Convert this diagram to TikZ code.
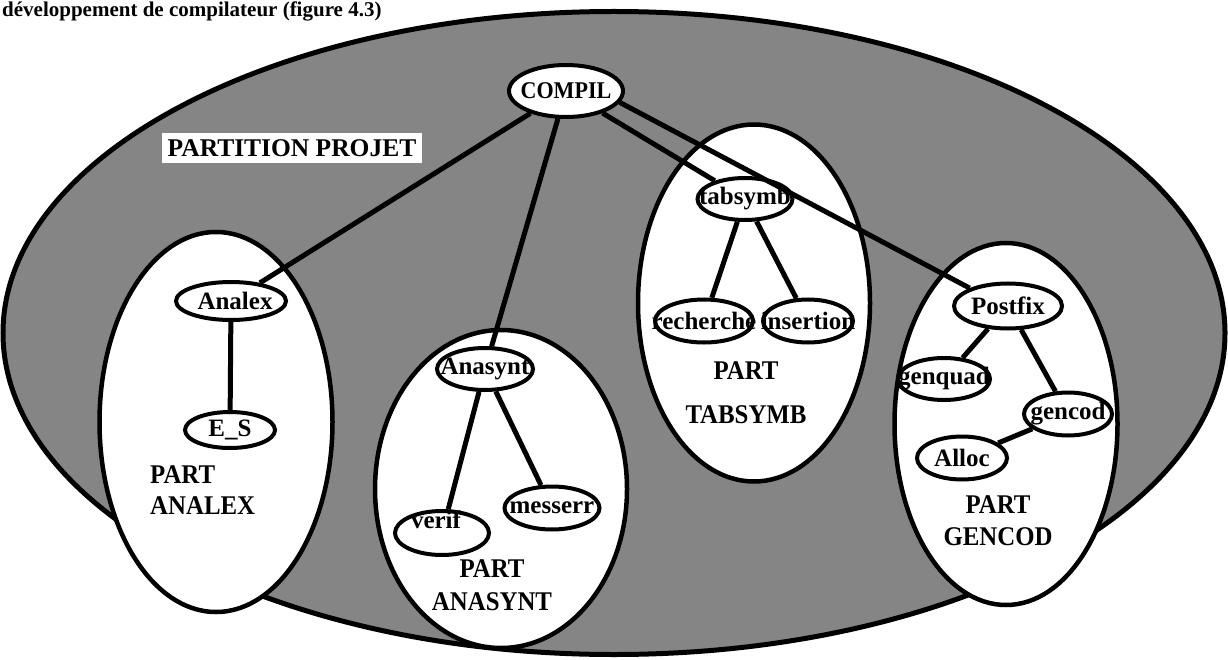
\documentclass[tikz,border=0pt]{standalone}
\usepackage{fontspec}
\setmainfont{Liberation Serif}
\newfontfamily\capsfont{Liberation Serif}[FakeStretch=0.92]
\usetikzlibrary{shapes.geometric}
\tikzset{
  region/.style={ellipse, draw, line width=5pt, inner sep=0pt},
  part/.style={ellipse, draw, line width=4.5pt, fill=white, inner sep=0pt},
  mod/.style={ellipse, draw, line width=4pt, fill=white, inner sep=0pt,
              font=\fontsize{25}{25}\selectfont\bfseries},
  link/.style={line width=5pt},
  partlabel/.style={inner sep=0pt, align=center},
}
% text that may run past the outline of its ellipse
\newcommand{\wide}[1]{\makebox[0pt]{#1}}

\begin{document}
\begin{tikzpicture}[x=1pt,y=-1pt]
\useasboundingbox (0,0) rectangle (1228,660);
\clip (0,0) rectangle (1228,660);

% caption line at the top
\node[anchor=base west, inner sep=0pt, font=\fontsize{21}{21}\selectfont\bfseries] (caption)
  at (2,17) {développement de compilateur (figure 4.3)};

% the whole project
\node[region, fill=black!48, minimum width=1222pt, minimum height=643pt] (projet) at (614,333) {};

% the four partitions
\node[part, minimum width=233pt, minimum height=380pt] (pAnalex)  at (216,422) {};
\node[part, minimum width=252pt, minimum height=318pt] (pAnasynt) at (501,489) {};
\node[part, minimum width=232pt, minimum height=357pt] (pTabsymb) at (754,303) {};
\node[part, minimum width=223pt, minimum height=362pt] (pGencod)  at (1006,424) {};

\node[fill=white, inner sep=0pt, minimum width=260pt, minimum height=30pt,
      font=\fontsize{25.5}{25.5}\selectfont\bfseries] (projlabel) at (292,148) {PARTITION PROJET};

% modules
\node[mod, minimum width=114pt, minimum height=52pt, font=\capsfont\fontsize{24}{24}\selectfont\bfseries]
      (compil) at (566,91) {\wide{COMPIL}};
\node[mod, minimum width=110pt, minimum height=38pt] (analex)   at (231,301) {\wide{\hspace*{8pt}Analex}};
\node[mod, minimum width=90pt,  minimum height=36pt] (es)       at (230,430) {\wide{E\_S}};
\node[mod, minimum width=96pt,  minimum height=42pt] (anasynt)  at (485,369) {\wide{Anasynt}};
\node[mod, minimum width=94pt,  minimum height=44pt,
      label={[inner sep=0pt, xshift=-6pt, yshift=13pt, font=\fontsize{25}{25}\selectfont\bfseries]center:verif}]
      (verif) at (442,533) {};
\node[mod, minimum width=95pt,  minimum height=43pt] (messerr)  at (552,508) {\wide{messerr}};
\node[mod, minimum width=95pt,  minimum height=42pt] (tabsymb)  at (745,199) {\wide{tabsymb}};
\node[mod, minimum width=98pt,  minimum height=43pt] (recherche) at (704,321) {\wide{recherche}};
\node[mod, minimum width=90pt,  minimum height=43pt] (insertion) at (808,321) {\wide{insertion}};
\node[mod, minimum width=108pt, minimum height=45pt] (postfix)  at (1008,306) {\wide{Postfix}};
\node[mod, minimum width=92pt,  minimum height=42pt] (genquad)  at (944,379) {\wide{genquad}};
\node[mod, minimum width=88pt,  minimum height=43pt] (gencod)   at (1068,414) {\wide{gencod}};
\node[mod, minimum width=90pt,  minimum height=43pt] (alloc)    at (962,458) {\wide{Alloc}};

% uses between modules
\draw[link] (compil) -- (analex);
\draw[link] (compil) -- (anasynt);
\draw[link] (compil) -- (tabsymb);
\draw[link] (compil.-12) -- (postfix.155);
\draw[link] (analex) -- (es);
\draw[link] (anasynt) -- (verif);
\draw[link] (anasynt) -- (messerr);
\draw[link] (tabsymb) -- (recherche);
\draw[link] (tabsymb) -- (insertion);
\draw[link] (postfix) -- (genquad);
\draw[link] (postfix) -- (gencod);
\draw[link] (gencod) -- (alloc);

% partition names
\node[partlabel, anchor=north west, align=left, font=\capsfont\fontsize{27}{31}\selectfont\bfseries]
      (lAnalex) at (150,465) {PART\\ANALEX};
\node[partlabel, font=\capsfont\fontsize{27}{33}\selectfont\bfseries] (lAnasynt) at (492,585) {PART\\ANASYNT};
\node[partlabel, font=\capsfont\fontsize{27}{44}\selectfont\bfseries] (lTabsymb) at (746,393) {PART\\TABSYMB};
\node[partlabel, font=\capsfont\fontsize{27}{32}\selectfont\bfseries] (lGencod) at (998,521) {PART\\GENCOD};
\end{tikzpicture}
\end{document}
